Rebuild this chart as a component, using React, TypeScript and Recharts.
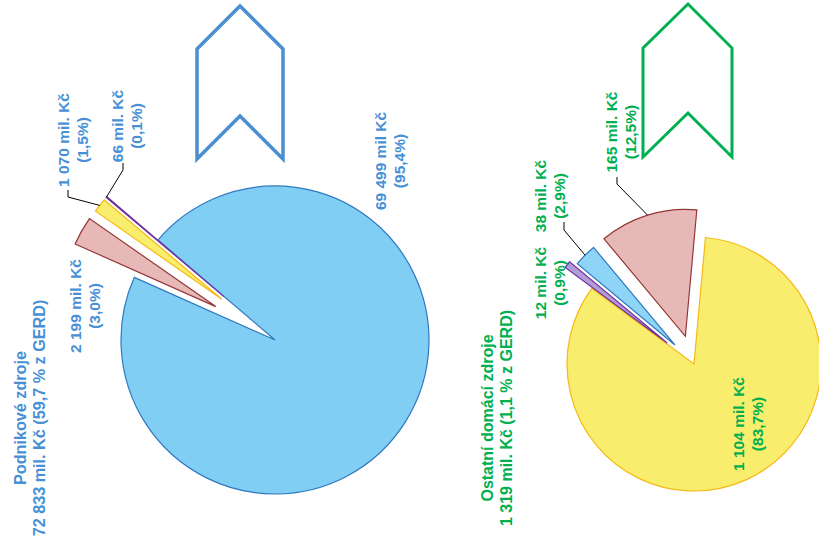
import React from 'react';
import { PieChart, Pie, Cell } from 'recharts';

// ---- data ----
const leftCategories = ['Podnikové – A', 'Podnikové – B', 'Podnikové – C', 'Podnikové – D'];
const leftValues = [69499, 66, 1070, 2199];
const leftLine1 = ['69 499 mil Kč', '66 mil. Kč', '1 070 mil. Kč', '2 199 mil. Kč'];
const leftLine2 = ['(95,4%)', '(0,1%)', '(1,5%)', '(3,0%)'];
const leftTitle = ['Podnikové zdroje', '72 833 mil. Kč (59,7 % z GERD)'];

const rightCategories = ['Ostatní – A', 'Ostatní – B', 'Ostatní – C', 'Ostatní – D'];
const rightValues = [1104, 165, 38, 12];
const rightLine1 = ['1 104 mil. Kč', '165 mil. Kč', '38 mil. Kč', '12 mil. Kč'];
const rightLine2 = ['(83,7%)', '(12,5%)', '(2,9%)', '(0,9%)'];
const rightTitle = ['Ostatní domácí zdroje', '1 319 mil. Kč (1,1 % z GERD)'];

// ---- styles / layout ----
const BLUE_TEXT = '#4790d6';
const GREEN_TEXT = '#00b050';
const FONT = "'Liberation Sans', Arial, sans-serif";
const FS = 15.5;
const LINE = 19;

const leftFill = ['#80cef4', '#b295d2', '#f9ed6e', '#e6b9b8'];
const leftStroke = ['#2f78c0', '#7030a0', '#f5b914', '#953735'];
const leftExplode = [0, 67, 67, 68];
const leftGeom = { cx: 275, cy: 340, r: 154, start: 156 };
const leftLabelPos = [
  { tx: 390, ty: 161 },
  { tx: 127, ty: 126, elbow: [123, 170], end: [123, 163] },
  { tx: 73, ty: 140, elbow: [68, 197], end: [68, 190] },
  { tx: 85, ty: 306 },
];

const rightFill = ['#f9ed6e', '#e6b9b8', '#8ed4f6', '#b39cd6'];
const rightStroke = ['#f5b914', '#953735', '#2f78c0', '#7030a0'];
const rightExplode = [0, 29, 27, 34];
const rightGeom = { cx: 694, cy: 364, r: 127, start: 143.5 };
const rightLabelPos = [
  { tx: 748, ty: 424 },
  { tx: 621, ty: 132, elbow: [617, 184], end: [617, 177] },
  { tx: 550, ty: 196, elbow: [564, 230], end: [564, 222] },
  { tx: 550, ty: 283 },
];

const RAD = Math.PI / 180;

function midAngles(values: number[], start: number) {
  const total = values.reduce((a, b) => a + b, 0);
  let acc = start;
  return values.map((v) => {
    const span = (v / total) * 360;
    const m = acc + span / 2;
    acc += span;
    return m;
  });
}

function RotText({ x, y, lines, color, size }: { x: number; y: number; lines: string[]; color: string; size: number }) {
  const base = size * 0.36;
  return (
    <g transform={`translate(${x},${y}) rotate(-90)`}>
      <text textAnchor="middle" fontFamily={FONT} fontWeight="bold" fontSize={size} fill={color}>
        <tspan x={0} y={-LINE / 2 + base}>{lines[0]}</tspan>
        <tspan x={0} y={LINE / 2 + base}>{lines[1]}</tspan>
      </text>
    </g>
  );
}

function makeLabel(idx: number, pos: any, l1: string[], l2: string[], color: string) {
  return (props: any) => {
    if (props.index !== idx) return null;
    const { cx, cy, midAngle, outerRadius } = props;
    const sx = cx + Math.cos(-midAngle * RAD) * outerRadius;
    const sy = cy + Math.sin(-midAngle * RAD) * outerRadius;
    const p = pos[idx];
    return (
      <g key={`lbl-${idx}`}>
        {p.elbow && (
          <polyline
            points={`${sx},${sy} ${p.elbow[0]},${p.elbow[1]} ${p.end[0]},${p.end[1]}`}
            fill="none"
            stroke="#000"
            strokeWidth={1}
          />
        )}
        <RotText x={p.tx} y={p.ty} lines={[l1[idx], l2[idx]]} color={color} size={FS} />
      </g>
    );
  };
}

function renderPies(
  prefix: string,
  categories: string[],
  values: number[],
  fills: string[],
  strokes: string[],
  explode: number[],
  geom: { cx: number; cy: number; r: number; start: number },
  pos: any,
  l1: string[],
  l2: string[],
  color: string
) {
  const data = categories.map((name, i) => ({ name, value: values[i] }));
  const mids = midAngles(values, geom.start);
  return values.map((_, i) => {
    const cx = geom.cx + Math.cos(-mids[i] * RAD) * explode[i];
    const cy = geom.cy + Math.sin(-mids[i] * RAD) * explode[i];
    return (
      <Pie
        key={`${prefix}-${i}`}
        data={data}
        dataKey="value"
        nameKey="name"
        cx={cx}
        cy={cy}
        innerRadius={0}
        outerRadius={geom.r}
        startAngle={geom.start}
        endAngle={geom.start + 360}
        isAnimationActive={false}
        labelLine={false}
        label={makeLabel(i, pos, l1, l2, color)}
      >
        {data.map((_d, j) => (
          <Cell
            key={`c-${j}`}
            fill={j === i ? fills[j] : 'none'}
            stroke={j === i ? strokes[j] : 'none'}
            strokeWidth={1.2}
          />
        ))}
      </Pie>
    );
  });
}

export default function App() {
  return (
    <div style={{ position: 'absolute', left: 0, top: 0, width: 819, height: 546, background: '#fff' }}>
      <PieChart width={819} height={546} margin={{ top: 0, right: 0, bottom: 0, left: 0 }}>
        {renderPies('L', leftCategories, leftValues, leftFill, leftStroke, leftExplode, leftGeom, leftLabelPos, leftLine1, leftLine2, BLUE_TEXT)}
        {renderPies('R', rightCategories, rightValues, rightFill, rightStroke, rightExplode, rightGeom, rightLabelPos, rightLine1, rightLine2, GREEN_TEXT)}
      </PieChart>
      <svg width={819} height={546} style={{ position: 'absolute', left: 0, top: 0, pointerEvents: 'none' }}>
        <polygon
          points="197,49 240,6 283,49 283,159 240,116 197,159"
          fill="none"
          stroke="#4a8fd0"
          strokeWidth={3.5}
        />
        <polygon
          points="643,48 688,4 732,48 732,157 688,113 643,157"
          fill="none"
          stroke="#00b050"
          strokeWidth={3}
        />
        <RotText x={30} y={418} lines={leftTitle} color={BLUE_TEXT} size={16.2} />
        <RotText x={497} y={418} lines={rightTitle} color={GREEN_TEXT} size={16} />
      </svg>
    </div>
  );
}
